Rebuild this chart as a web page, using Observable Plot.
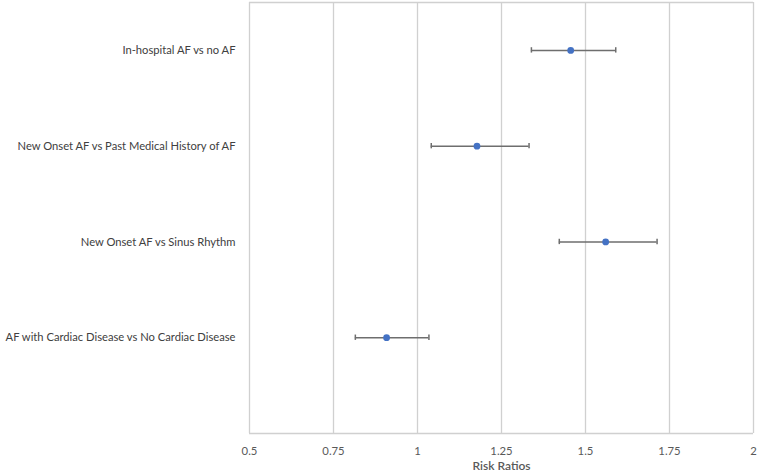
<!DOCTYPE html>
<html>
<head>
<meta charset="utf-8">
<script src="https://cdn.jsdelivr.net/npm/d3@7"></script>
<script src="https://cdn.jsdelivr.net/npm/@observablehq/plot@0.6"></script>
<style>
  html, body { margin: 0; padding: 0; background: #fff; }
  #chart svg { display: block; }
</style>
</head>
<body>
<div id="chart"></div>
<script>
const categories = [
  "In-hospital AF vs no AF",
  "New Onset AF vs Past Medical History of AF",
  "New Onset AF vs Sinus Rhythm",
  "AF with Cardiac Disease vs No Cardiac Disease"
];
const riskRatio = [1.456, 1.177, 1.560, 0.908];
const lower = [1.339, 1.041, 1.422, 0.815];
const upper = [1.590, 1.332, 1.713, 1.034];
const xTicks = [0.5, 0.75, 1, 1.25, 1.5, 1.75, 2];
const xLabel = "Risk Ratios";

const n = categories.length;
const rows = categories.map((c, i) => ({
  cat: c, rr: riskRatio[i], lo: lower[i], hi: upper[i], pos: n - i
}));
const cap = 0.028;

const chart = Plot.plot({
  width: 759,
  height: 475,
  marginLeft: 249,
  marginRight: 6,
  marginTop: 2,
  marginBottom: 42,
  style: { fontFamily: "Lato, 'Open Sans', sans-serif", background: "#fff" },
  x: { domain: [0.5, 2] },
  y: { domain: [0, n + 0.5], axis: null },
  marks: [
    Plot.ruleX(xTicks, { stroke: "#d0d0d0", strokeWidth: 1.3 }),
    Plot.ruleY([0, n + 0.5], { stroke: "#d0d0d0", strokeWidth: 1.3 }),
    Plot.axisX({
      ticks: xTicks,
      tickSize: 0,
      tickPadding: 13,
      tickFormat: d => String(d),
      fontSize: 11.3,
      fill: "#595959",
      label: null
    }),
    Plot.text([xLabel], {
      frameAnchor: "bottom",
      dy: 36,
      text: d => d,
      fontSize: 12,
      fontWeight: 600,
      fill: "#595959"
    }),
    Plot.text(rows, {
      x: 0.5, y: "pos", text: "cat",
      dx: -14, textAnchor: "end",
      fontSize: 11.2, fill: "#404040"
    }),
    Plot.ruleY(rows, { x1: "lo", x2: "hi", y: "pos", stroke: "#6e6e6e", strokeWidth: 1.5 }),
    Plot.ruleX(rows, { x: "lo", y1: d => d.pos - cap, y2: d => d.pos + cap, stroke: "#6e6e6e", strokeWidth: 1.5 }),
    Plot.ruleX(rows, { x: "hi", y1: d => d.pos - cap, y2: d => d.pos + cap, stroke: "#6e6e6e", strokeWidth: 1.5 }),
    Plot.dot(rows, { x: "rr", y: "pos", r: 3.4, fill: "#4472C4", stroke: "none" })
  ]
});
document.getElementById("chart").appendChild(chart);
</script>
</body>
</html>
